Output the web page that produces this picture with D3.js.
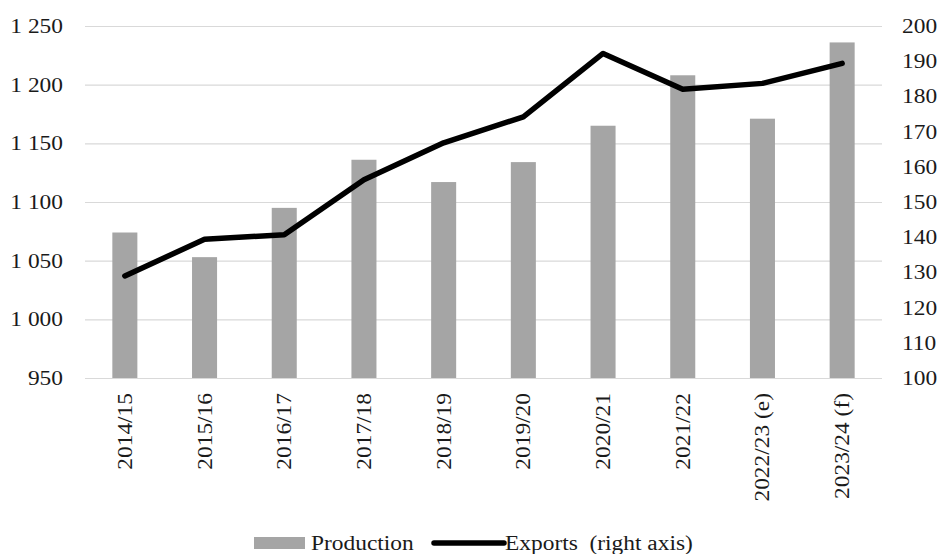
<!DOCTYPE html>
<html>
<head>
<meta charset="utf-8">
<script src="https://cdn.jsdelivr.net/npm/d3@7"></script>
<style>
  html, body { margin: 0; padding: 0; background: #fff; }
</style>
</head>
<body>
<svg id="chart" width="941" height="554"></svg>
<script>
// Marketing years
const categories = ["2014/15", "2015/16", "2016/17", "2017/18", "2018/19",
                    "2019/20", "2020/21", "2021/22", "2022/23 (e)", "2023/24 (f)"];
// Production (left axis)
const production = [1074, 1053, 1095, 1136, 1117, 1134, 1165, 1208, 1171, 1236];
// Exports (right axis)
const exportsData = [129, 139.4, 140.7, 156.3, 166.8, 174.2, 192.2, 182, 183.7, 189.4];
// Tick values for both axes
const leftTicks = [950, 1000, 1050, 1100, 1150, 1200, 1250];
const rightTicks = [100, 110, 120, 130, 140, 150, 160, 170, 180, 190, 200];

const svg = d3.select("#chart");
const plot = { left: 85, right: 882, top: 26, bottom: 378 };
const stretch = 1.17;       // horizontally widened serif lettering
const fontSize = 20;
const serif = "'Liberation Serif', 'Times New Roman', Times, 'DejaVu Serif', serif";

const x = d3.scaleBand().domain(categories)
  .range([plot.left, plot.right]).paddingInner(0.686).paddingOuter(0.343);
const yL = d3.scaleLinear().domain([950, 1250]).range([plot.bottom, plot.top]);
const yR = d3.scaleLinear().domain([100, 200]).range([plot.bottom, plot.top]);

const fmt = v => d3.format(",")(v).replace(/,/g, " ");

// Gridlines
svg.append("g")
  .attr("transform", `translate(${plot.left},0)`)
  .call(d3.axisLeft(yL).tickValues(leftTicks).tickSize(-(plot.right - plot.left)).tickFormat(""))
  .call(g => g.select(".domain").remove())
  .call(g => g.selectAll("line").attr("stroke", "#d9d9d9").attr("stroke-width", 1.2));

// Left axis labels
svg.append("g")
  .attr("transform", `translate(63,0)`)
  .call(d3.axisLeft(yL).tickValues(leftTicks).tickSize(0).tickPadding(0).tickFormat(fmt))
  .call(g => g.select(".domain").remove());

// Right axis labels
svg.append("g")
  .attr("transform", `translate(902,0)`)
  .call(d3.axisRight(yR).tickValues(rightTicks).tickSize(0).tickPadding(0))
  .call(g => g.select(".domain").remove());

// Bars
svg.append("g").selectAll("rect")
  .data(categories)
  .join("rect")
  .attr("x", d => x(d))
  .attr("width", x.bandwidth())
  .attr("y", (d, i) => yL(production[i]))
  .attr("height", (d, i) => yL(950) - yL(production[i]))
  .attr("fill", "#a5a5a5");

// Exports line
const line = d3.line()
  .x((d, i) => x(categories[i]) + x.bandwidth() / 2)
  .y(d => yR(d));
svg.append("path")
  .datum(exportsData)
  .attr("d", line)
  .attr("fill", "none")
  .attr("stroke", "#000")
  .attr("stroke-width", 5.5)
  .attr("stroke-linejoin", "round")
  .attr("stroke-linecap", "round");

// Category labels, rotated
const xAxis = svg.append("g")
  .attr("transform", `translate(0,${plot.bottom})`)
  .call(d3.axisBottom(x).tickSize(0).tickPadding(0))
  .call(g => g.select(".domain").remove());
xAxis.selectAll("text")
  .attr("text-anchor", "end")
  .attr("transform", "rotate(-90)")
  .attr("x", -15)
  .attr("y", 0)
  .attr("dy", "0.35em");

// Legend
const legend = svg.append("g");
legend.append("rect").attr("x", 254).attr("y", 537).attr("width", 51).attr("height", 12).attr("fill", "#a5a5a5");
legend.append("text").attr("x", 311).attr("y", 550).text("Production");
legend.append("line").attr("x1", 434).attr("x2", 504).attr("y1", 543).attr("y2", 543)
  .attr("stroke", "#000").attr("stroke-width", 5.5).attr("stroke-linecap", "round");
legend.append("text").attr("x", 505).attr("y", 550)
  .attr("xml:space", "preserve").text("Exports  (right axis)");

// Shared lettering: serif, widened
svg.selectAll("g").attr("font-family", null).attr("font-size", null);
svg.selectAll("text")
  .attr("font-family", serif)
  .attr("font-size", fontSize)
  .attr("fill", "#1a1a1a")
  .style("font-family", serif)
  .each(function () {
    const len = this.getComputedTextLength();
    if (len > 0) {
      d3.select(this).attr("textLength", len * stretch).attr("lengthAdjust", "spacingAndGlyphs");
    }
  });
</script>
</body>
</html>
